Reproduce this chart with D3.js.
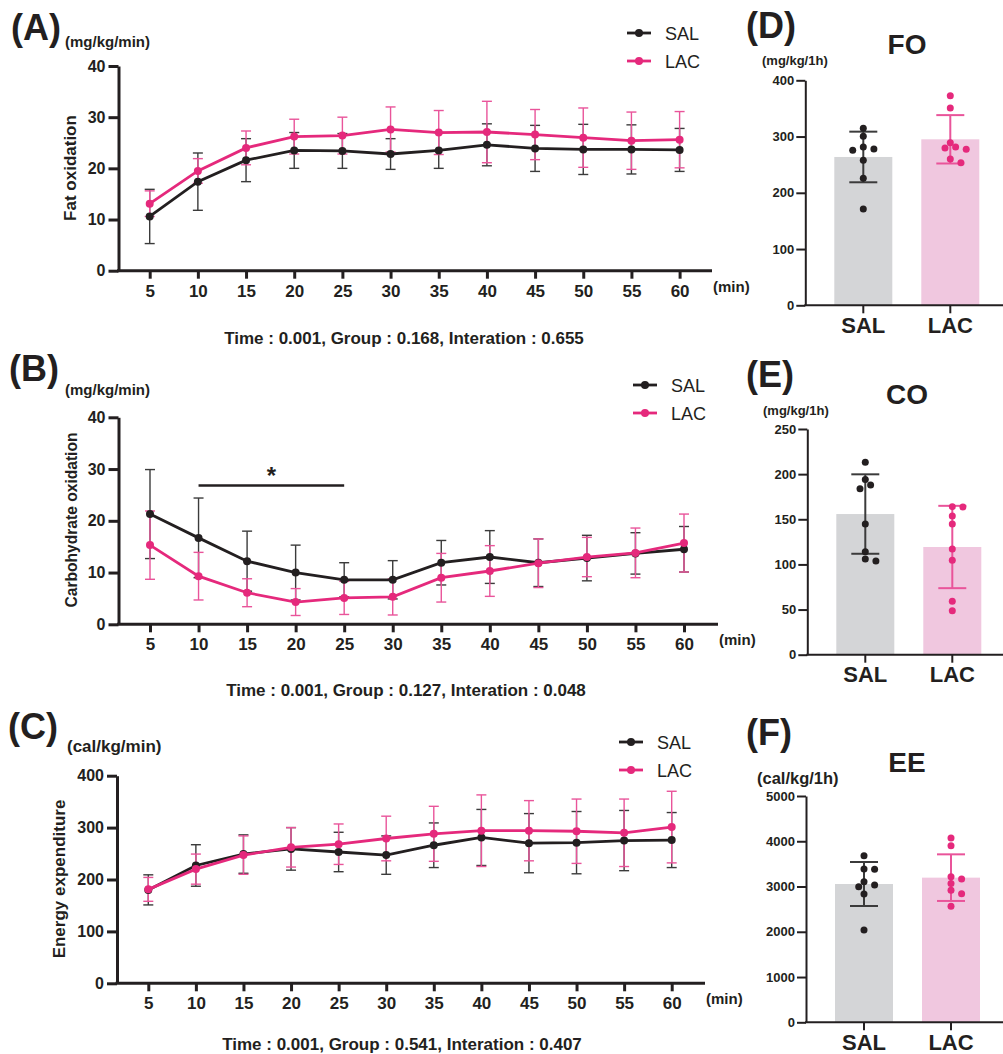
<!DOCTYPE html>
<html>
<head>
<meta charset="utf-8">
<script src="https://cdn.jsdelivr.net/npm/d3@7"></script>
<style>
  body { margin: 0; background: #fff; }
  text { font-family: "Liberation Sans", Arial, sans-serif; fill: #231f20; }
</style>
</head>
<body>
<svg id="fig" width="1003" height="1054"></svg>
<script>
// time course data (mean, SD)
var minutes = [5, 10, 15, 20, 25, 30, 35, 40, 45, 50, 55, 60];

var foSal   = [10.6, 17.4, 21.6, 23.5, 23.4, 22.8, 23.5, 24.6, 23.9, 23.7, 23.7, 23.6];
var foSalSd = [5.3, 5.6, 4.2, 3.5, 3.4, 3.0, 3.5, 4.1, 4.5, 4.9, 4.8, 4.2];
var foLac   = [13.1, 19.5, 24.0, 26.2, 26.4, 27.6, 27.0, 27.1, 26.6, 26.0, 25.4, 25.6];
var foLacSd = [2.5, 2.4, 3.3, 3.4, 3.6, 4.4, 4.3, 6.0, 4.9, 5.8, 5.6, 5.5];

var choSal   = [21.3, 16.7, 12.2, 10.0, 8.6, 8.6, 11.9, 13.0, 11.9, 12.8, 13.7, 14.5];
var choSalSd = [8.6, 7.7, 5.8, 5.3, 3.3, 3.7, 4.3, 5.1, 4.6, 4.4, 4.0, 4.4];
var choLac   = [15.3, 9.3, 6.1, 4.3, 5.1, 5.3, 9.0, 10.3, 11.8, 13.0, 13.8, 15.7];
var choLacSd = [6.6, 4.6, 2.7, 2.6, 3.2, 3.5, 4.7, 4.9, 4.7, 3.8, 4.8, 5.6];

var eeSal   = [180, 227, 249, 259, 253, 247, 266, 281, 270, 271, 275, 276];
var eeSalSd = [29, 40, 37, 41, 38, 37, 43, 54, 57, 60, 58, 53];
var eeLac   = [181, 220, 247, 262, 268, 279, 288, 294, 294, 293, 290, 301];
var eeLacSd = [23, 29, 37, 38, 39, 43, 53, 69, 58, 62, 65, 69];

// 1h totals (bars = mean, SD, individual animals)
var groups = ["SAL", "LAC"];

var foBarMean = [263.7, 295.1];
var foBarSd   = [45, 43];
var foSalPts  = [314.9, 300.4, 281.5, 277.9, 275.6, 257.8, 225.8, 171.3];
var foLacPts  = [372.7, 350.8, 289.2, 281.5, 279.7, 277.3, 260.1, 253.6];

var coBarMean = [155.8, 119.3];
var coBarSd   = [44, 45.6];
var coSalPts  = [213.1, 194.2, 187.9, 183.9, 144.8, 114.1, 106.0, 103.8];
var coLacPts  = [164.0, 163.6, 153.6, 144.8, 117.1, 104.5, 59.1, 48.7];

var eeBarMean = [3056, 3196];
var eeBarSd   = [486, 515];
var eeSalPts  = [3681, 3387, 3380, 3107, 3034, 2997, 2835, 2040];
var eeLacPts  = [4072, 3903, 3218, 3167, 3064, 2916, 2842, 2563];

var BLACK = "#231f20", PINK = "#e5297c";
var SAL_ERR = "#3b3b3b", LAC_ERR = "#e9549a";
var GRAY_BAR = "#d4d5d7", PINK_BAR = "#f0c7df";

var svg = d3.select("#fig");

function styleAxis(g, width, fontSize) {
  g.select(".domain").attr("stroke", BLACK).attr("stroke-width", width);
  g.selectAll(".tick line").attr("stroke", BLACK).attr("stroke-width", width);
  g.selectAll(".tick text")
    .attr("fill", BLACK)
    .style("font-family", "'Liberation Sans', Arial, sans-serif")
    .style("font-weight", "bold")
    .style("font-size", fontSize + "px");
}

function addText(x, y, txt, size, opts) {
  opts = opts || {};
  var t = svg.append("text")
    .attr("x", x).attr("y", y)
    .style("font-size", size + "px")
    .style("font-weight", opts.normal ? "normal" : "bold")
    .attr("text-anchor", opts.anchor || "start")
    .text(txt);
  if (opts.rotate) t.attr("transform", "rotate(-90," + x + "," + y + ")");
  return t;
}

function linePanel(c) {
  var g = svg.append("g");
  var x = d3.scaleLinear().domain([5, 60]).range([c.x5, c.x60]);
  var y = d3.scaleLinear().domain([0, c.yMax]).range([c.y0, c.yTop]);

  var series = [
    { mean: c.sal, sd: c.salSd, color: BLACK, err: SAL_ERR },
    { mean: c.lac, sd: c.lacSd, color: PINK, err: LAC_ERR }
  ];

  // error bars
  series.forEach(function (s) {
    var eg = g.append("g").attr("stroke", s.err).attr("stroke-width", 1.4);
    minutes.forEach(function (m, i) {
      var lo = y(s.mean[i] - s.sd[i]), hi = y(s.mean[i] + s.sd[i]);
      eg.append("line").attr("x1", x(m)).attr("x2", x(m)).attr("y1", lo).attr("y2", hi);
      eg.append("line").attr("x1", x(m) - 5).attr("x2", x(m) + 5).attr("y1", lo).attr("y2", lo);
      eg.append("line").attr("x1", x(m) - 5).attr("x2", x(m) + 5).attr("y1", hi).attr("y2", hi);
    });
  });

  series.forEach(function (s) {
    var line = d3.line()
      .x(function (d, i) { return x(minutes[i]); })
      .y(function (d) { return y(d); });
    g.append("path").datum(s.mean)
      .attr("d", line)
      .attr("fill", "none")
      .attr("stroke", s.color)
      .attr("stroke-width", 2.8);
    g.selectAll(null).data(s.mean).enter().append("circle")
      .attr("cx", function (d, i) { return x(minutes[i]); })
      .attr("cy", function (d) { return y(d); })
      .attr("r", 4)
      .attr("fill", s.color);
  });

  // axes
  var ya = g.append("g").attr("transform", "translate(" + c.ax + ",0)")
    .call(d3.axisLeft(y).tickValues(c.yTicks).tickSize(10).tickSizeOuter(0).tickPadding(3));
  styleAxis(ya, 3, 16);

  var xa = g.append("g").attr("transform", "translate(0," + c.y0 + ")")
    .call(d3.axisBottom(x).tickValues(minutes).tickSize(8).tickSizeOuter(0));
  xa.select(".domain").remove();
  styleAxis(xa, 3, 17);
  xa.selectAll(".tick text").attr("y", 14);
  g.append("line")
    .attr("x1", c.ax - 1.5).attr("x2", c.axEnd)
    .attr("y1", c.y0).attr("y2", c.y0)
    .attr("stroke", BLACK).attr("stroke-width", 3);

  addText(c.axEnd + 1, c.y0 + 21, "(min)", 15);

  // legend
  series.forEach(function (s, i) {
    var ly = c.legY + i * 28;
    svg.append("line").attr("x1", c.legX).attr("x2", c.legX + 24)
      .attr("y1", ly).attr("y2", ly)
      .attr("stroke", s.color).attr("stroke-width", 2.8);
    svg.append("circle").attr("cx", c.legX + 12).attr("cy", ly).attr("r", 4).attr("fill", s.color);
    addText(c.legX + 38, ly + 6.5, groups[i], 18, { normal: true });
  });

  addText(c.letterX, c.letterY, c.letter, 36);
  addText(c.unitX, c.unitY, c.unit, c.unitSize);
  addText(c.ylabX, c.ylabY, c.ylab, c.ylabSize, { anchor: "middle", rotate: true });
  addText(c.statX, c.statY, c.stat, 17, { anchor: "middle" });

  return { g: g, x: x, y: y };
}

function swarm(vals, y, cx) {
  var placed = [];
  vals.slice().sort(function (a, b) { return b - a; }).forEach(function (v) {
    var py = y(v);
    var steps = [0, 1, -1, 2, -2, 3, -3, 4, -4];
    for (var k = 0; k < steps.length; k++) {
      var px = cx + steps[k] * 5.3;
      var ok = placed.every(function (p) {
        return Math.hypot(p.x - px, p.y - py) >= 6.6;
      });
      if (ok) { placed.push({ x: px, y: py }); break; }
    }
  });
  return placed;
}

function barPanel(c) {
  var g = svg.append("g");
  var x = d3.scaleBand().domain(groups).range([c.ax, c.ax + 203]).padding(1 / 3);
  var y = d3.scaleLinear().domain([0, c.yMax]).range([c.y0, c.yTop]);
  var fills = [GRAY_BAR, PINK_BAR], errs = [SAL_ERR, LAC_ERR], dots = [BLACK, PINK];

  g.selectAll("rect").data(c.mean).enter().append("rect")
    .attr("x", function (d, i) { return x(groups[i]); })
    .attr("y", function (d) { return y(d); })
    .attr("width", x.bandwidth())
    .attr("height", function (d) { return c.y0 - y(d); })
    .attr("fill", function (d, i) { return fills[i]; });

  c.mean.forEach(function (m, i) {
    var cx = x(groups[i]) + x.bandwidth() / 2;
    var lo = y(m - c.sd[i]), hi = y(m + c.sd[i]);
    var eg = g.append("g").attr("stroke", errs[i]).attr("stroke-width", 2);
    eg.append("line").attr("x1", cx).attr("x2", cx).attr("y1", lo).attr("y2", hi);
    eg.append("line").attr("x1", cx - 14).attr("x2", cx + 14).attr("y1", lo).attr("y2", lo);
    eg.append("line").attr("x1", cx - 14).attr("x2", cx + 14).attr("y1", hi).attr("y2", hi);

    g.selectAll(null).data(swarm(c.pts[i], y, cx)).enter().append("circle")
      .attr("cx", function (d) { return d.x; })
      .attr("cy", function (d) { return d.y; })
      .attr("r", 3.5)
      .attr("fill", dots[i]);
  });

  var ya = g.append("g").attr("transform", "translate(" + c.ax + ",0)")
    .call(d3.axisLeft(y).tickValues(c.yTicks).tickFormat(d3.format("d"))
      .tickSize(9).tickSizeOuter(0).tickPadding(2));
  styleAxis(ya, 2, 13);

  var xa = g.append("g").attr("transform", "translate(0," + c.y0 + ")")
    .call(d3.axisBottom(x).tickSize(8).tickSizeOuter(0));
  xa.select(".domain").remove();
  styleAxis(xa, 2, 22);
  xa.selectAll(".tick text").attr("y", 12);
  g.append("line")
    .attr("x1", c.ax - 1).attr("x2", 1003)
    .attr("y1", c.y0).attr("y2", c.y0)
    .attr("stroke", BLACK).attr("stroke-width", 2);

  addText(c.letterX, c.letterY, c.letter, 36);
  addText(907, c.titleY, c.title, 28, { anchor: "middle" });
  addText(c.unitX, c.unitY, c.unit, c.unitSize);
}

// (A) fat oxidation
linePanel({
  x5: 149.7, x60: 679.6, ax: 118.5, axEnd: 712, y0: 270.7, yTop: 66, yMax: 40,
  yTicks: [0, 10, 20, 30, 40],
  sal: foSal, salSd: foSalSd, lac: foLac, lacSd: foLacSd,
  legX: 627, legY: 33,
  letter: "(A)", letterX: 11, letterY: 40,
  unit: "(mg/kg/min)", unitX: 65, unitY: 47, unitSize: 15,
  ylab: "Fat oxidation", ylabX: 76, ylabY: 168, ylabSize: 17,
  stat: "Time : 0.001, Group : 0.168, Interation : 0.655", statX: 404, statY: 344
});

// (B) carbohydrate oxidation
var pB = linePanel({
  x5: 150, x60: 684, ax: 118.5, axEnd: 718, y0: 624.3, yTop: 417.3, yMax: 40,
  yTicks: [0, 10, 20, 30, 40],
  sal: choSal, salSd: choSalSd, lac: choLac, lacSd: choLacSd,
  legX: 633, legY: 385,
  letter: "(B)", letterX: 9, letterY: 381,
  unit: "(mg/kg/min)", unitX: 65, unitY: 395, unitSize: 15,
  ylab: "Carbohydrate oxidation", ylabX: 77, ylabY: 520, ylabSize: 15.6,
  stat: "Time : 0.001, Group : 0.127, Interation : 0.048", statX: 406, statY: 696
});
// significance bar 10-25 min
var sigFrom = 10, sigTo = 25, sigLevel = 26.8;
pB.g.append("line")
  .attr("x1", pB.x(sigFrom)).attr("x2", pB.x(sigTo))
  .attr("y1", pB.y(sigLevel)).attr("y2", pB.y(sigLevel))
  .attr("stroke", BLACK).attr("stroke-width", 2.5);
addText((pB.x(sigFrom) + pB.x(sigTo)) / 2, pB.y(sigLevel) - 2, "*", 24, { anchor: "middle" });

// (C) energy expenditure
linePanel({
  x5: 148.3, x60: 671.7, ax: 117, axEnd: 705, y0: 983.3, yTop: 775.7, yMax: 400,
  yTicks: [0, 100, 200, 300, 400],
  sal: eeSal, salSd: eeSalSd, lac: eeLac, lacSd: eeLacSd,
  legX: 619, legY: 742,
  letter: "(C)", letterX: 8, letterY: 739,
  unit: "(cal/kg/min)", unitX: 67, unitY: 752, unitSize: 17,
  ylab: "Energy expenditure", ylabX: 65, ylabY: 879, ylabSize: 17,
  stat: "Time : 0.001, Group : 0.541, Interation : 0.407", statX: 402, statY: 1050
});

// (D) FO
barPanel({
  ax: 805.3, y0: 305.3, yTop: 80.3, yMax: 400, yTicks: [0, 100, 200, 300, 400],
  mean: foBarMean, sd: foBarSd, pts: [foSalPts, foLacPts],
  letter: "(D)", letterX: 746, letterY: 38, title: "FO", titleY: 54,
  unit: "(mg/kg/1h)", unitX: 762, unitY: 65, unitSize: 13
});

// (E) CO
barPanel({
  ax: 807.3, y0: 654.7, yTop: 429, yMax: 250, yTicks: [0, 50, 100, 150, 200, 250],
  mean: coBarMean, sd: coBarSd, pts: [coSalPts, coLacPts],
  letter: "(E)", letterX: 746, letterY: 387, title: "CO", titleY: 404,
  unit: "(mg/kg/1h)", unitX: 763, unitY: 415, unitSize: 13
});

// (F) EE
barPanel({
  ax: 806, y0: 1022.3, yTop: 796, yMax: 5000, yTicks: [0, 1000, 2000, 3000, 4000, 5000],
  mean: eeBarMean, sd: eeBarSd, pts: [eeSalPts, eeLacPts],
  letter: "(F)", letterX: 746, letterY: 745, title: "EE", titleY: 772,
  unit: "(cal/kg/1h)", unitX: 757, unitY: 784, unitSize: 16.5
});
</script>
</body>
</html>
